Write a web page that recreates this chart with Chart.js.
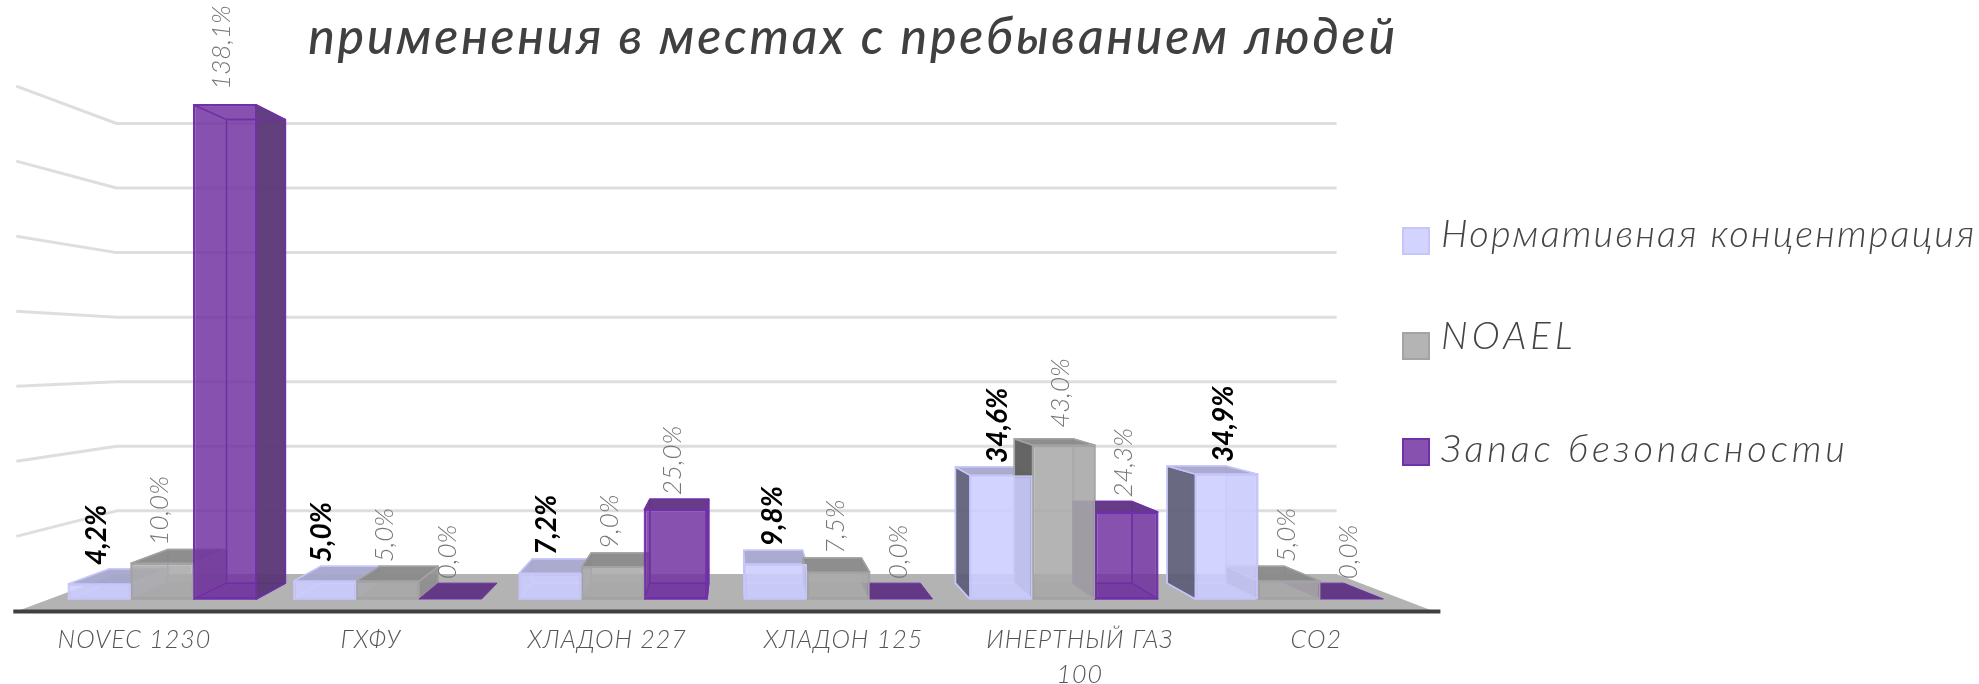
<!DOCTYPE html>
<html lang="ru"><head><meta charset="utf-8">
<style>html,body{margin:0;padding:0;background:#fff}canvas{display:block}</style>
<script src="https://cdn.jsdelivr.net/npm/chart.js@4"></script></head>
<body><canvas id="c" width="1979" height="684"></canvas>
<script>
const titleText = "применения в местах с пребыванием людей";
const categories = ["NOVEC 1230","ГХФУ","ХЛАДОН 227","ХЛАДОН 125",["ИНЕРТНЫЙ ГАЗ","100"],"СО2"];
const seriesNames = ["Нормативная концентрация","NOAEL","Запас безопасности"];
const normConcentration = [4.2,5.0,7.2,9.8,34.6,34.9];
const noael = [10.0,5.0,9.0,7.5,43.0,5.0];
const safetyMargin = [138.1,0.0,25.0,0.0,24.3,0.0];
const yTicks = [20,40,60,80,100,120,140];

const skins = [
 {front:"rgba(205,205,255,.88)",edge:"#c6c6fb",top:"rgba(166,166,205,.95)",side:"rgba(92,92,118,.92)",rside:"rgba(184,184,232,.85)",text:"#000",font:"italic 700 28px Lato"},
 {front:"rgba(170,170,170,.88)",edge:"#a3a3a3",top:"rgba(138,138,138,.97)",side:"rgba(96,96,96,.97)",rside:"rgba(142,142,142,.9)",text:"#767676",font:"italic 300 26px Lato"},
 {front:"rgba(112,48,160,.84)",edge:"#7030a8",top:"rgba(96,52,132,.96)",side:"rgba(88,52,116,.95)",rside:"rgba(90,54,118,.95)",text:"#767676",font:"italic 300 26px Lato"}
];
const VP = {x:734,y:343}, DEPTH_X=.061, DEPTH_Y=.062, WALL=.902, FRONT=1.0485;
const pr = (x,y,f)=>[VP.x+(x-VP.x)*f, VP.y+(y-VP.y)*f];
function poly(ctx,pts,fill,stroke,lw){
  ctx.beginPath();pts.forEach((p,i)=>i?ctx.lineTo(p[0],p[1]):ctx.moveTo(p[0],p[1]));ctx.closePath();
  if(fill){ctx.fillStyle=fill;ctx.fill();}
  if(stroke){ctx.strokeStyle=stroke;ctx.lineWidth=lw||1.5;ctx.stroke();}
}
const box3d = {
  id:"box3d",
  beforeDatasetsDraw(chart){
    const {ctx,chartArea:a,scales:{y}}=chart;
    ctx.save();
    ctx.lineWidth=3;ctx.strokeStyle="#dedede";ctx.lineJoin="round";
    yTicks.forEach(v=>{
      const yy=y.getPixelForValue(v);
      const fl=pr(a.left,yy,FRONT),wl=pr(a.left,yy,WALL),wr=pr(a.right,yy,WALL);
      ctx.beginPath();ctx.moveTo(fl[0],fl[1]);ctx.lineTo(wl[0],wl[1]+1.5);ctx.lineTo(wr[0],wr[1]+1.5);ctx.stroke();
    });
    const y0=y.getPixelForValue(0);
    const fl=pr(a.left,y0,FRONT),fr=pr(a.right,y0,FRONT),bl=pr(a.left,y0,WALL),br=pr(a.right,y0,WALL);
    poly(ctx,[fl,fr,br,bl],"#b3b3b3");
    ctx.strokeStyle="#404040";ctx.lineWidth=4;ctx.beginPath();ctx.moveTo(fl[0]-3,fl[1]);ctx.lineTo(fr[0]+6,fr[1]);ctx.stroke();
    chart.data.datasets.forEach((ds,di)=>{
      const s=skins[di];
      chart.getDatasetMeta(di).data.forEach(b=>{
        const l=b.x-b.width/2,r=b.x+b.width/2,t=b.y,u=b.base;
        const bk=(x,yy)=>[x+(VP.x-x)*DEPTH_X,yy+(VP.y-yy)*DEPTH_Y];
        const F={lt:[l,t],rt:[r,t],lb:[l,u],rb:[r,u]};
        const B={lt:bk(l,t),rt:bk(r,t),lb:bk(l,u),rb:bk(r,u)};
        const flat=Math.abs(u-t)<.5;
        if(flat){poly(ctx,[F.lb,F.rb,B.rb,B.lb],s.top,s.edge,1);return;}
        poly(ctx,[B.lt,B.rt,B.rb,B.lb],null,s.edge,1.5);
        poly(ctx,[F.lb,F.rb,B.rb,B.lb],s.top.replace(/[\d.]+\)$/,".35)"),s.edge,1.5);
        if(l>VP.x) poly(ctx,[F.lt,F.lb,B.lb,B.lt],s.side,s.edge,1.5);
        else poly(ctx,[F.lt,F.lb,B.lb,B.lt],null,s.edge,1);
        if(r<VP.x) poly(ctx,[F.rt,F.rb,B.rb,B.rt],s.rside,s.edge,1.5);
        else poly(ctx,[F.rt,F.rb,B.rb,B.rt],"rgba(60,60,110,.1)",s.edge,1);
        if(t>VP.y) poly(ctx,[F.lt,F.rt,B.rt,B.lt],s.top,s.edge,1.5);
        else poly(ctx,[F.lt,F.rt,B.rt,B.lt],null,s.edge,1.5);
      });
    });
    ctx.restore();
  },
  afterDraw(chart){
    const {ctx,scales:{x}}=chart;
    ctx.save();
    chart.data.datasets.forEach((ds,di)=>{
      const s=skins[di];
      chart.getDatasetMeta(di).data.forEach((b,i)=>{
        const v=ds.data[i];
        const backTop=b.y+(VP.y-b.y)*DEPTH_Y;
        const gap=v>40?(v>100?15:11):4;
        const yy=Math.min(b.y,backTop)-gap;
        ctx.save();
        ctx.translate(b.x-3,yy);ctx.rotate(-Math.PI/2);
        ctx.font=s.font;ctx.fillStyle=s.text;
        ctx.textAlign="left";ctx.textBaseline="middle";
        ctx.fillText(v.toFixed(1).replace(".",",")+"%",0,0);
        ctx.restore();
      });
    });
    ctx.font="italic 300 25px Lato";ctx.fillStyle="#555";ctx.textAlign="center";ctx.textBaseline="middle";
    ctx.letterSpacing="1px";
    categories.forEach((c,i)=>{
      const px=pr(x.getPixelForTick(i),0,FRONT)[0];
      [].concat(c).forEach((t,j)=>ctx.fillText(t,px,640+j*35));
    });
    ctx.font="italic 500 50px Lato";ctx.fillStyle="#404040";ctx.letterSpacing="2.8px";
    ctx.fillText(titleText,853,38);
    seriesNames.forEach((n,i)=>{
      const s=skins[i];
      ctx.fillStyle=s.front;ctx.strokeStyle=s.edge;ctx.lineWidth=2;
      ctx.fillRect(1403,[228,333,439][i],26,26);ctx.strokeRect(1403,[228,333,439][i],26,26);
      ctx.font="italic 300 38px Lato";ctx.fillStyle="#444";ctx.textAlign="left";
      ctx.letterSpacing=["2.2px","4px","3.8px"][i];
      ctx.fillText(n,1441,[235,337,450][i]);
    });
    ctx.restore();
  }
};
new Chart(document.getElementById("c"),{
  type:"bar",
  data:{labels:categories,datasets:[normConcentration,noael,safetyMargin].map((d,i)=>({
    label:seriesNames[i],data:d,backgroundColor:skins[i].front,borderColor:skins[i].edge,borderWidth:2,borderSkipped:false,
    categoryPercentage:.834,barPercentage:1
  }))},
  options:{
    responsive:false,animation:false,events:[],
    layout:{padding:{left:49.5,right:577,top:98,bottom:85}},
    plugins:{legend:{display:false},title:{display:false},tooltip:{enabled:false}},
    scales:{
      x:{display:false,offset:true},
      y:{display:false,min:0,max:140,ticks:{stepSize:20}}
    }
  },
  plugins:[box3d]
});
</script></body></html>
